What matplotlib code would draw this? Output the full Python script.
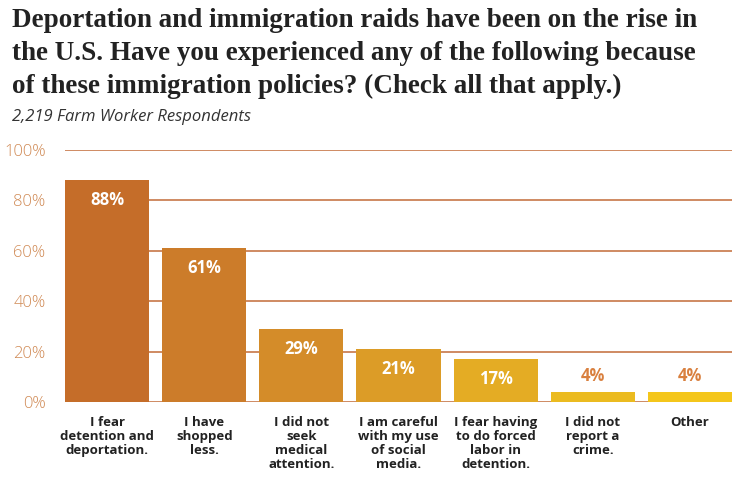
import matplotlib.pyplot as plt
import numpy as np

categories = [
    "I fear\ndetention and\ndeportation.",
    "I have\nshopped\nless.",
    "I did not\nseek\nmedical\nattention.",
    "I am careful\nwith my use\nof social\nmedia.",
    "I fear having\nto do forced\nlabor in\ndetention.",
    "I did not\nreport a\ncrime.",
    "Other",
]
values = [88, 61, 29, 21, 17, 4, 4]
yticks = [0, 20, 40, 60, 80, 100]

bar_colors = ["#c56d29", "#cc7c2a", "#d48c29", "#dc9c27", "#e4ac24", "#ebbb20", "#f4c61b"]

fig = plt.figure(figsize=(7.5, 4.83), dpi=100)
ax = fig.add_axes([65 / 750, 1 - 402 / 483, 667 / 750, 252 / 483])

width = 0.866
x = np.arange(len(values))
ax.bar(x, values, width=width, color=bar_colors, zorder=3)
ax.set_xlim(-width / 2, len(values) - 1 + width / 2)
ax.set_ylim(0, 100)

for yv in yticks:
    ax.axhline(yv, color="#c26b38", linewidth=1.1, zorder=1)

for xi, v in zip(x, values):
    if v >= 10:
        ax.text(xi, v - 8, f"{v}%", ha="center", va="center", color="white",
                fontsize=12, fontweight="bold", family="Open Sans", zorder=4)
    else:
        ax.text(xi, v + 6.5, f"{v}%", ha="center", va="center", color="#d9803f",
                fontsize=12, fontweight="bold", family="Open Sans", zorder=4)

ax.set_yticks(yticks)
ax.set_yticklabels([f"{t}%" for t in yticks], color="#d08a55", fontsize=12,
                   family="Open Sans", fontweight="light")
ax.tick_params(axis="y", length=0, pad=14)
ax.set_xticks(x)
ax.set_xticklabels(categories, fontsize=9.5, fontweight="bold", family="Open Sans",
                   color="#222222", linespacing=1.12, va="top")
ax.tick_params(axis="x", length=0, pad=10)
for s in ax.spines.values():
    s.set_visible(False)

fig.text(12 / 750, 1 - 8 / 483,
         "Deportation and immigration raids have been on the rise in\n"
         "the U.S. Have you experienced any of the following because\n"
         "of these immigration policies? (Check all that apply.)",
         ha="left", va="top", fontsize=19.5, fontweight="bold",
         family="Liberation Serif", color="#222222", linespacing=1.42)
fig.text(12 / 750, 1 - 117 / 483, "2,219 Farm Worker Respondents",
         ha="left", va="center", fontsize=12, style="italic",
         family="Open Sans", color="#333333")

fig.savefig("out.png", dpi=100)
